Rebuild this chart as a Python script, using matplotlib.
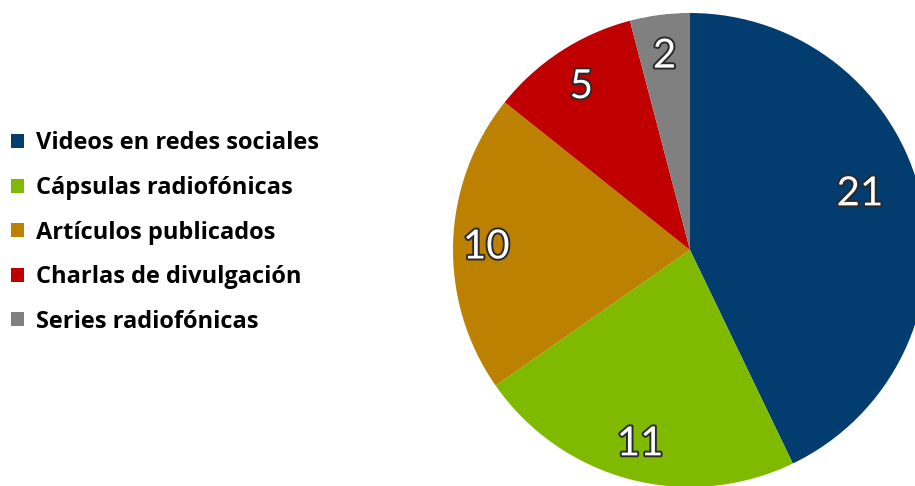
import numpy as np
import matplotlib.pyplot as plt
import matplotlib.patheffects as pe
from matplotlib.patches import Patch

categories = [
    "Videos en redes sociales",
    "Cápsulas radiofónicas",
    "Artículos publicados",
    "Charlas de divulgación",
    "Series radiofónicas",
]
values = [21, 11, 10, 5, 2]
colors = ["#033c6e", "#80ba00", "#bc8100", "#c00000", "#808080"]

# label placement: radius factor and angle nudge (deg) per wedge
label_radius = [0.76, 0.83, 0.86, 0.84, 0.84]
label_nudge = [6.5, 0, 0, 0, 0]

W, H = 915, 486
fig = plt.figure(figsize=(W / 100, H / 100), dpi=100)

# pie centre and radius in pixels
cx, cy, r = 690, 250, 237
ax = fig.add_axes([(cx - r) / W, (H - cy - r) / H, 2 * r / W, 2 * r / H])
wedges, _ = ax.pie(values, colors=colors, startangle=90, counterclock=False,
                   radius=1, wedgeprops=dict(linewidth=0))
ax.set_xlim(-1, 1)
ax.set_ylim(-1, 1)
ax.set_aspect("equal")
ax.axis("off")

for w, v, rf, dn in zip(wedges, values, label_radius, label_nudge):
    ang = np.deg2rad((w.theta1 + w.theta2) / 2 + dn)
    ax.text(rf * np.cos(ang), rf * np.sin(ang) - 0.015, str(v), ha="center", va="center",
            fontsize=29, color="white", family="Lato",
            path_effects=[pe.withStroke(linewidth=2.8, foreground="#2a2a2a")])

handles = [Patch(facecolor=c, edgecolor="none") for c in colors]
fig.legend(handles, categories, loc="upper left",
           bbox_to_anchor=(2 / W, 1 - 122 / H), frameon=False,
           prop=dict(family="Open Sans", weight="bold", size=17),
           handlelength=0.53, handleheight=0.53, handletextpad=0.5,
           labelspacing=0.87, borderaxespad=0.0)

fig.savefig("out.png", dpi=100)
